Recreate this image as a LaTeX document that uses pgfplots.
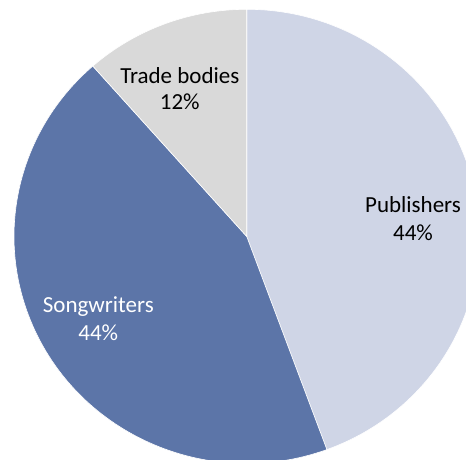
\documentclass[border=0pt]{standalone}
\usepackage{fontspec}
\setmainfont{Carlito}
\usepackage{pgfplots}
\usepackage{pgfplotstable}
\pgfplotsset{compat=1.18}

\definecolor{pubcol}{RGB}{207,213,230}
\definecolor{songcol}{RGB}{92,117,168}
\definecolor{tradecol}{RGB}{217,217,217}

% share of each group, in percent
\pgfplotstableread{
group value
Publishers 44.4
Songwriters 44.1
Tradebodies 11.5
}\piedata

\pgfplotstablegetelem{0}{value}\of\piedata \let\vPub\pgfplotsretval
\pgfplotstablegetelem{1}{value}\of\piedata \let\vSong\pgfplotsretval
\pgfplotstablegetelem{2}{value}\of\piedata \let\vTrade\pgfplotsretval

% pie radii in data units (x and y)
\def\rx{232.7}
\def\ry{227.1}
\pgfmathsetmacro\aZero{90}
\pgfmathsetmacro\aOne{\aZero-3.6*\vPub}
\pgfmathsetmacro\aTwo{\aOne-3.6*\vSong}
\pgfmathsetmacro\aThree{\aTwo-3.6*\vTrade}
\pgfmathsetmacro\xZ{\rx*cos(\aZero)}\pgfmathsetmacro\yZ{\ry*sin(\aZero)}
\pgfmathsetmacro\xO{\rx*cos(\aOne)}\pgfmathsetmacro\yO{\ry*sin(\aOne)}
\pgfmathsetmacro\xT{\rx*cos(\aTwo)}\pgfmathsetmacro\yT{\ry*sin(\aTwo)}

\begin{document}
\begin{tikzpicture}
  \useasboundingbox (0,0) rectangle (233pt,230pt);
  \begin{axis}[
      at={(0,0)}, anchor=south west,
      x=0.5pt, y=0.5pt,
      xmin=-246.7, xmax=219.3,
      ymin=-223.6, ymax=236.4,
      hide axis,
    ]
    \addplot[draw=none] coordinates {(0,0)};
    \fill[pubcol, draw=white, line width=0.3pt] (axis cs:0,0) -- (axis cs:\xZ,\yZ)
      arc[start angle=\aZero, end angle=\aOne, x radius=116.35pt, y radius=113.55pt] -- cycle;
    \fill[songcol, draw=white, line width=0.3pt] (axis cs:0,0) -- (axis cs:\xO,\yO)
      arc[start angle=\aOne, end angle=\aTwo, x radius=116.35pt, y radius=113.55pt] -- cycle;
    \fill[tradecol, draw=white, line width=0.3pt] (axis cs:0,0) -- (axis cs:\xT,\yT)
      arc[start angle=\aTwo, end angle=\aThree, x radius=116.35pt, y radius=113.55pt] -- cycle;

    \begin{scope}[font=\fontsize{11.5}{14}\selectfont]
      \node[anchor=base, black] at (axis cs:166.3,23.4) {Publishers};
      \node[anchor=base, black] at (axis cs:166.3,-4.6) {44\%};
      \node[anchor=base, white] at (axis cs:-148.4,-76.6) {Songwriters};
      \node[anchor=base, white] at (axis cs:-148.4,-104.6) {44\%};
      \node[anchor=base, black] at (axis cs:-66.9,153.1) {Trade bodies};
      \node[anchor=base, black] at (axis cs:-66.9,126.4) {12\%};
    \end{scope}
  \end{axis}
\end{tikzpicture}
\end{document}
